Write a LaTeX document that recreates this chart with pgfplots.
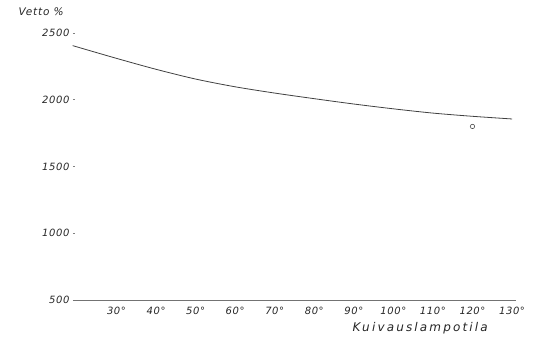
\documentclass[border=0pt]{standalone}
\usepackage{fontspec}
\setmainfont{DejaVu Sans}
\usepackage{pgfplots}
\pgfplotsset{compat=1.18}
\begin{document}
\begin{tikzpicture}[x=1pt,y=1pt]
\begin{axis}[at={(0,0)}, anchor=south west, scale only axis,
  width=443pt, height=267pt,
  xmin=19, xmax=131, ymin=500, ymax=2500,
  axis x line*=bottom, axis y line*=left,
  axis line style={-},
  y axis line style={draw=none},
  x axis line style={draw=black!55, line width=0.8pt},
  xtick={30,40,...,130},
  xticklabels={30°,40°,50°,60°,70°,80°,90°,100°,110°,120°,130°},
  ytick={500,1000,...,2500},
  /pgf/number format/assume math mode=true,
  /pgf/number format/1000 sep={},
  tick label style={font=\itshape\fontsize{10}{10}\selectfont\addfontfeature{LetterSpace=6}, black!85},
  xticklabel style={yshift=-4pt},
  major tick length=2.5pt,
  tick style={black!50, line width=0.5pt},
  xtick style={draw=none},
  clip=false,
]
\addplot[smooth, black!75, line width=0.8pt] coordinates {
 (19,2405) (20,2396) (30,2310) (40,2228) (50,2155) (60,2097)
 (70,2050) (80,2008) (90,1968) (100,1932) (110,1900) (120,1876) (130,1856)};
\addplot[only marks, mark=o, mark size=2.2pt, black!70, line width=0.6pt] coordinates {(120,1800)};
\end{axis}
\node[anchor=west, font=\itshape\fontsize{10.5}{11}\selectfont\addfontfeature{LetterSpace=8}, black!85] at (-58,288) {Vetto \%};
\node[anchor=west, font=\itshape\fontsize{12}{12}\selectfont\addfontfeature{LetterSpace=18}, black!85] at (276,-28) {Kuivauslampotila};
\path (-73,-45) rectangle (460,300);
\end{tikzpicture}
\end{document}
